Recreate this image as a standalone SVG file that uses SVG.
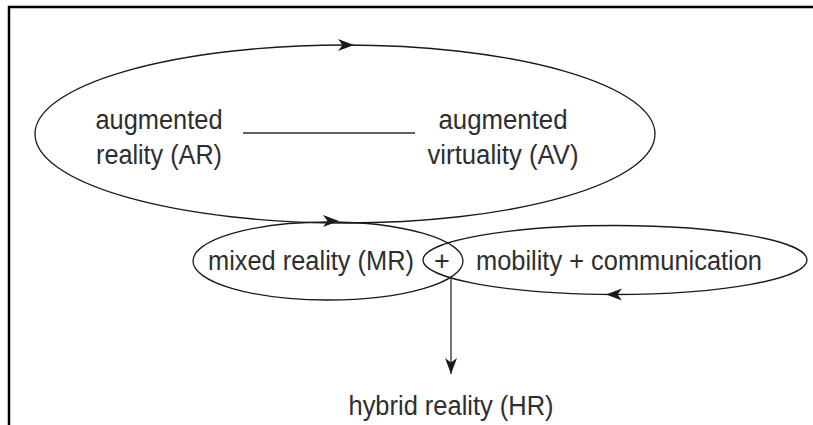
<svg xmlns="http://www.w3.org/2000/svg" xmlns:xlink="http://www.w3.org/1999/xlink" width="813" height="425" viewBox="0 0 813 425">
  <style>
    .loop { fill: none; stroke: #1a1a1a; stroke-width: 1.3; }
    .line { fill: none; stroke: #2a2a2a; stroke-width: 1.3; }
    .lbl { font-family: "Liberation Sans", Arial, sans-serif; font-size: 27px; fill: #2e2e2e; text-anchor: middle; }
    .frame { stroke: #000; stroke-width: 2.5; fill: none; }
  </style>
  <defs>
    <path id="ah" d="M0,0 L-16,-6 L-11.5,0 L-16,6 Z" fill="#1a1a1a"/>
    <marker id="arrowEnd" viewBox="-17 -7 18 14" refX="0" refY="0" markerWidth="18" markerHeight="14" markerUnits="userSpaceOnUse" orient="auto">
      <use xlink:href="#ah"/>
    </marker>
  </defs>

  <g id="frame">
    <line class="frame" x1="8" y1="7" x2="813" y2="7"/>
    <line class="frame" x1="9" y1="6" x2="9" y2="425"/>
  </g>

  <g id="ar-av-loop">
    <ellipse class="loop" cx="345" cy="134" rx="310" ry="89"/>
    <use xlink:href="#ah" transform="translate(354,45)"/>
    <use xlink:href="#ah" transform="translate(339,221)"/>
    <text class="lbl" x="159" y="129" textLength="127" lengthAdjust="spacingAndGlyphs">augmented</text>
    <text class="lbl" x="159" y="164" textLength="126" lengthAdjust="spacingAndGlyphs">reality (AR)</text>
    <text class="lbl" x="503" y="129" textLength="129" lengthAdjust="spacingAndGlyphs">augmented</text>
    <text class="lbl" x="503" y="164" textLength="151" lengthAdjust="spacingAndGlyphs">virtuality (AV)</text>
  </g>

  <g id="mr">
    <ellipse class="loop" cx="328" cy="261" rx="135" ry="39"/>
    <text class="lbl" x="311" y="270" textLength="206" lengthAdjust="spacingAndGlyphs">mixed reality (MR)</text>
  </g>

  <g id="plus">
    <text class="lbl" x="442" y="270">+</text>
  </g>

  <g id="mobility">
    <ellipse class="loop" cx="615" cy="260" rx="192" ry="34.5"/>
    <use xlink:href="#ah" transform="translate(606,294.5) rotate(180)"/>
    <text class="lbl" x="619" y="270" textLength="286" lengthAdjust="spacingAndGlyphs">mobility + communication</text>
  </g>

  <g id="hr">
    <text class="lbl" x="451" y="415" textLength="205" lengthAdjust="spacingAndGlyphs">hybrid reality (HR)</text>
  </g>

  <g id="connectors">
    <line class="line" x1="243" y1="133" x2="415" y2="133"/>
    <line class="line" x1="451" y1="278" x2="451" y2="374" marker-end="url(#arrowEnd)"/>
  </g>
</svg>
